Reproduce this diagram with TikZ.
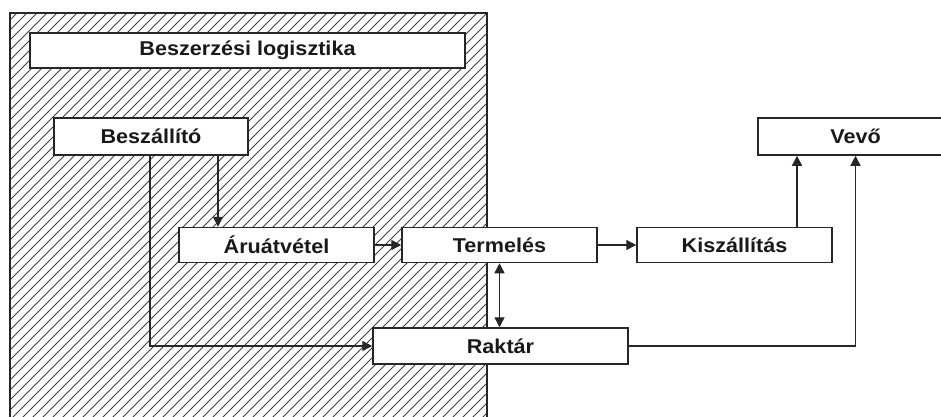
\documentclass[tikz,border=0pt]{standalone}
\usepackage{fontspec}
\usepackage{graphicx}
\setmainfont{Liberation Sans}
\usetikzlibrary{arrows.meta}
\newcommand\sx[1]{\scalebox{1.08}[1]{#1}}
\tikzset{
  box/.style={draw=black!85, line width=1.5pt, fill=white, inner sep=0pt,
    font=\bfseries\fontsize{20}{24}\selectfont, text=black!90},
  conn/.style={draw=black!85, line width=1.4pt},
  arr/.style={conn, -{Triangle[length=10pt,width=10pt]}},
  darr/.style={conn, {Triangle[length=10pt,width=10pt]}-{Triangle[length=10pt,width=10pt]}},
  hatch/.style={draw=black!75, line width=1pt}
}
\begin{document}
\begin{tikzpicture}[x=1pt,y=-1pt]
\useasboundingbox (0,0) rectangle (941,416);
\fill[white] (0,0) rectangle (941,416);
% hatched region
\begin{scope}
  \clip (10,13) rectangle (487,430);
  \foreach \i in {-440,-430,...,500}{
    \draw[hatch] (\i,430) -- (\i+430,0);
  }
\end{scope}
\draw[draw=black!85, line width=1.4pt] (10,430) -- (10,13) -- (487,13) -- (487,430);
% nodes
\node[box, minimum width=435pt, minimum height=35pt] (title) at (247.5,50.5) {\sx{Beszerzési logisztika}};
\node[box, minimum width=194pt, minimum height=37pt] (besz) at (151,136.5) {\sx{Beszállító}};
\node[box, minimum width=195pt, minimum height=35pt] (aru) at (276.5,245) {\sx{Áruátvétel}};
\node[box, minimum width=195pt, minimum height=35pt] (term) at (499.5,245) {\sx{Termelés}};
\node[box, minimum width=195pt, minimum height=35pt] (kisz) at (734.5,245) {\sx{Kiszállítás}};
\node[box, minimum width=195pt, minimum height=37pt] (vevo) at (855.5,136.5) {\sx{Vevő}};
\node[box, minimum width=255pt, minimum height=36pt] (rakt) at (500.5,346) {\sx{Raktár}};
% helper x positions
\coordinate (xa) at (218,0);
\coordinate (xb) at (150,0);
\coordinate (xc) at (797,0);
% connectors
\draw[arr] (besz.south -| xa) -- (aru.north -| xa);
\draw[arr] (besz.south -| xb) |- (rakt.west);
\draw[arr] (aru.east) -- (term.west);
\draw[arr] (term.east) -- (kisz.west);
\draw[darr] (term.south) -- (rakt.north -| term.south);
\draw[arr] (kisz.north -| xc) -- (vevo.south -| xc);
\draw[arr] (rakt.east) -| (vevo.south);
\end{tikzpicture}
\end{document}
